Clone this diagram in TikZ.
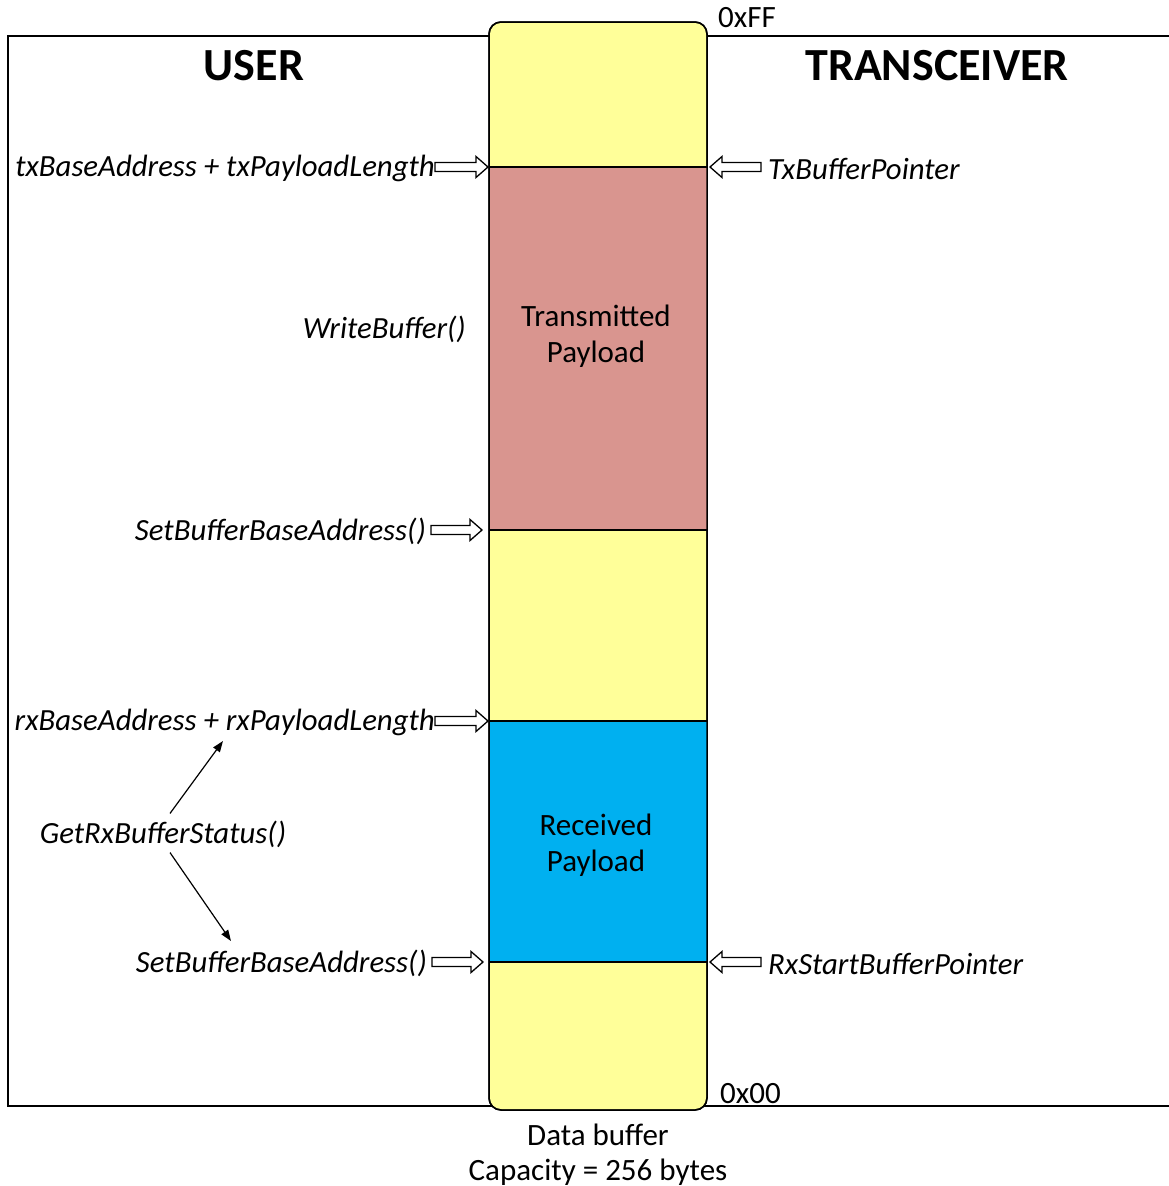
\documentclass[tikz,border=0pt]{standalone}
\usepackage{fontspec}
\setmainfont{Carlito}
\usetikzlibrary{arrows.meta,calc}
\definecolor{bufyellow}{HTML}{FFFF99}
\definecolor{txred}{HTML}{D9958F}
\definecolor{rxblue}{HTML}{00B0F0}
\tikzset{
  lab/.style={font=\fontsize{30.8}{36}\selectfont\itshape, inner sep=0pt},
  blocktxt/.style={font=\fontsize{31}{36}\selectfont, align=center, inner sep=0pt},
  title/.style={font=\fontsize{46}{52}\selectfont\bfseries, inner sep=0pt},
  addr/.style={font=\fontsize{31}{36}\selectfont, inner sep=0pt},
  blockarrow/.style={draw=black, fill=white, line width=1.3pt, line join=miter},
  thinarrow/.style={draw=black, line width=1.2pt, -{Triangle[length=11pt,width=8pt]}},
  frame/.style={draw=black, line width=1.5pt},
  divider/.style={draw=black, line width=1.5pt}
}
% hollow block arrow along a horizontal line: #1 tail, #2 tip, #3 signed head length
\newcommand\harrow[3]{%
  \path[blockarrow] let \p1=(#1), \p2=(#2) in
    (\x1,\y2+4.5pt) -- (\x2-#3,\y2+4.5pt) -- (\x2-#3,\y2+10.5pt) -- (\x2,\y2)
    -- (\x2-#3,\y2-10.5pt) -- (\x2-#3,\y2-4.5pt) -- (\x1,\y2-4.5pt) -- cycle;}
\begin{document}
\begin{tikzpicture}[x=1pt,y=-1pt]
\useasboundingbox (0,0) rectangle (1169,1186);
% outer frame
\draw[frame] (1169,36) -- (8,36) -- (8,1106) -- (1169,1106);
% buffer
\node[draw=black, line width=1.5pt, fill=bufyellow, rounded corners=12pt,
      minimum width=218pt, minimum height=1088pt, inner sep=0pt] (buf) at (598,566) {};
\node[fill=txred, minimum width=217pt, minimum height=363pt, inner sep=0pt] (tx) at (598,348.5) {};
\node[fill=rxblue, minimum width=217pt, minimum height=241pt, inner sep=0pt] (rx) at (598,841.5) {};
\draw[divider] (489,167) -- (707,167);
\draw[divider] (489,530) -- (707,530);
\draw[divider] (489,721) -- (707,721);
\draw[divider] (489,962) -- (707,962);
\node[draw=black, line width=1.5pt, rounded corners=12pt,
      minimum width=218pt, minimum height=1088pt, inner sep=0pt] (bufout) at (598,566) {};
% block texts
\node[blocktxt] (txt) at (596,336) {Transmitted\\Payload};
\node[blocktxt] (rxt) at (596,845) {Received\\Payload};
% titles
\node[title] (user) at (254,66) {USER};
\node[title] (trx) at (937,66) {TRANSCEIVER};
\node[addr, anchor=west] (ff) at (718,18) {0xFF};
\node[addr, anchor=west] (zz) at (720,1094) {0x00};
\node[addr] (cap1) at (598,1135) {Data buffer};
\node[addr] (cap2) at (598,1172) {Capacity = 256 bytes};
% labels
\node[lab, anchor=east] (txlen) at (435,168.5) {txBaseAddress + txPayloadLength};
\node[lab, anchor=west] (txptr) at (768,168.5) {TxBufferPointer};
\node[lab, anchor=east] (wb) at (466,329.5) {WriteBuffer()};
\node[lab, anchor=east] (sba1) at (426,531.5) {SetBufferBaseAddress()};
\node[lab, anchor=east] (rxlen) at (435,722.5) {rxBaseAddress + rxPayloadLength};
\node[lab] (get) at (163,834.5) {GetRxBufferStatus()};
\node[lab, anchor=east] (sba2) at (427,963.5) {SetBufferBaseAddress()};
\node[lab, anchor=west] (rxptr) at (768,963.5) {RxStartBufferPointer};
% arrow tips on the buffer
\coordinate (t1) at (488,167);
\coordinate (t2) at (710,167);
\coordinate (t3) at (482,530);
\coordinate (t4) at (488,721);
\coordinate (t5) at (483,962);
\coordinate (t6) at (710,962);
\harrow{txlen.east}{t1}{12pt}
\harrow{[xshift=-7pt]txptr.west}{t2}{-12pt}
\harrow{[xshift=5pt]sba1.east}{t3}{12pt}
\harrow{rxlen.east}{t4}{12pt}
\harrow{[xshift=5pt]sba2.east}{t5}{12pt}
\harrow{[xshift=-7pt]rxptr.west}{t6}{-12pt}
% thin arrows
\coordinate (up) at (223,741);
\coordinate (dn) at (231,941);
\draw[thinarrow] ([xshift=7pt,yshift=7.5pt]get.north) -- (up);
\draw[thinarrow] ([xshift=7pt,yshift=-4.5pt]get.south) -- (dn);
\end{tikzpicture}
\end{document}
